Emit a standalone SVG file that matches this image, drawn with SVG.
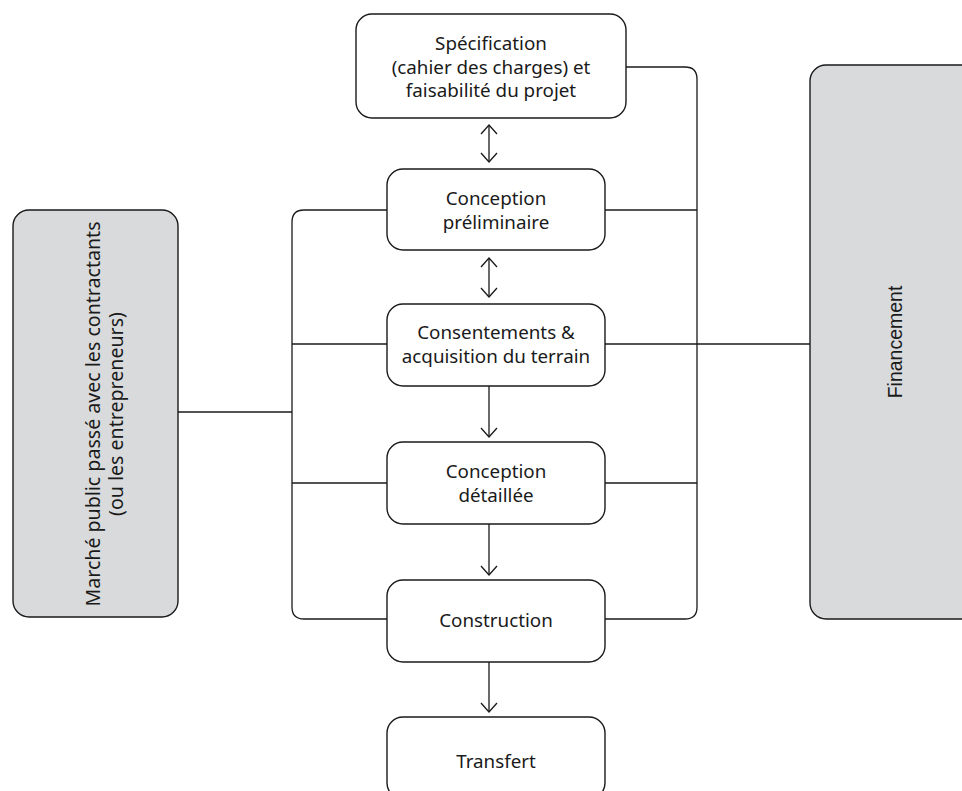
<svg xmlns="http://www.w3.org/2000/svg" width="962" height="791" viewBox="0 0 962 791">
<defs>
<marker id="ah" viewBox="0 0 20 20" refX="10" refY="10" markerWidth="20" markerHeight="20" markerUnits="userSpaceOnUse" orient="auto-start-reverse">
<path d="M1,2 L10,10 L1,18" fill="none" stroke="#1a1a1a" stroke-width="1.3"/>
</marker>
<style>
.box{fill:#ffffff;stroke:#1a1a1a;stroke-width:1.4}
.side{fill:#d9dadc;stroke:#1a1a1a;stroke-width:1.4}
.ln{fill:none;stroke:#1a1a1a;stroke-width:1.3}
.t{font-family:"Noto Sans","Open Sans",sans-serif;font-size:18.8px;fill:#1a1a1a;text-anchor:middle}
.tm{font-family:"Noto Sans","Open Sans",sans-serif;font-size:19.6px;fill:#1a1a1a;text-anchor:middle}
.tf{font-family:"Liberation Sans",Arial,sans-serif;font-size:19.5px;fill:#1a1a1a;text-anchor:middle}
</style>
</defs>
<rect width="962" height="791" fill="#ffffff"/>
<g id="connectors">
<path class="ln" d="M626,67 H685 Q697,67 697,79 V607 Q697,619 685,619 H598"/>
<path class="ln" d="M393,619 H304 Q292,619 292,607 V222 Q292,210 304,210 H387"/>
<line class="ln" x1="605" y1="210" x2="697" y2="210"/>
<line class="ln" x1="292" y1="344" x2="387" y2="344"/>
<line class="ln" x1="605" y1="344" x2="810" y2="344"/>
<line class="ln" x1="292" y1="483" x2="387" y2="483"/>
<line class="ln" x1="605" y1="483" x2="697" y2="483"/>
<line class="ln" x1="178" y1="412" x2="292" y2="412"/>
<line class="ln" x1="489" y1="125" x2="489" y2="162" marker-start="url(#ah)" marker-end="url(#ah)"/>
<line class="ln" x1="489" y1="258" x2="489" y2="297" marker-start="url(#ah)" marker-end="url(#ah)"/>
<line class="ln" x1="489" y1="386" x2="489" y2="437" marker-end="url(#ah)"/>
<line class="ln" x1="489" y1="524" x2="489" y2="575" marker-end="url(#ah)"/>
<line class="ln" x1="489" y1="662" x2="489" y2="712" marker-end="url(#ah)"/>
</g>
<g id="n-specification">
<rect class="box" x="356" y="14" width="270" height="104" rx="16"/>
<text class="t" x="491" y="50">Spécification</text>
<text class="t" x="491" y="74">(cahier des charges) et</text>
<text class="t" x="491" y="97">faisabilité du projet</text>
</g>
<g id="n-conception-prelim">
<rect class="box" x="387" y="169" width="218" height="81" rx="16"/>
<text class="t" x="496" y="205">Conception</text>
<text class="t" x="496" y="229">préliminaire</text>
</g>
<g id="n-consentements">
<rect class="box" x="387" y="304" width="218" height="82" rx="16"/>
<text class="t" x="496" y="339">Consentements &amp;</text>
<text class="t" x="496" y="363">acquisition du terrain</text>
</g>
<g id="n-conception-det">
<rect class="box" x="387" y="442" width="218" height="82" rx="16"/>
<text class="t" x="496" y="478">Conception</text>
<text class="t" x="496" y="502">détaillée</text>
</g>
<g id="n-construction">
<rect class="box" x="387" y="580" width="218" height="82" rx="16"/>
<text class="t" x="496" y="627">Construction</text>
</g>
<g id="n-transfert">
<rect class="box" x="387" y="717" width="218" height="82" rx="16"/>
<text class="t" x="496" y="768">Transfert</text>
</g>
<g id="n-marche">
<rect class="side" x="13" y="210" width="165" height="407" rx="16"/>
<text class="tm" transform="translate(100,414) rotate(-90)">Marché public passé avec les contractants</text>
<text class="tm" transform="translate(123,414) rotate(-90)">(ou les entrepreneurs)</text>
</g>
<g id="n-financement">
<rect class="side" x="810" y="65" width="170" height="554" rx="16"/>
<text class="tf" transform="translate(902,342) rotate(-90)">Financement</text>
</g>
</svg>
